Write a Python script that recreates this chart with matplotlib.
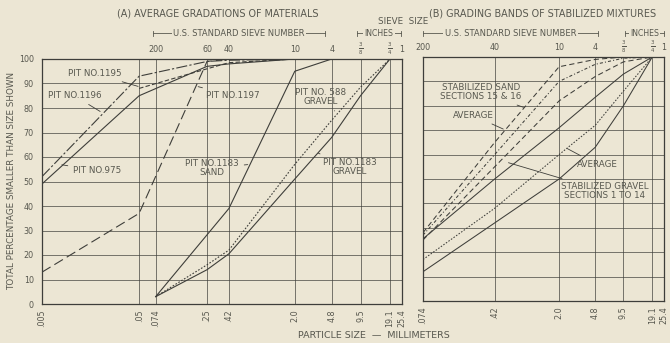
import matplotlib.pyplot as plt
from matplotlib.transforms import blended_transform_factory as btf

BG = '#ece6d4'
INK = '#3e3e3a'
TXT = '#58584f'
W, H = 670, 343

# ---------------- data ----------------
yticks = [0, 10, 20, 30, 40, 50, 60, 70, 80, 90, 100]

mm_a = [0.005, 0.05, 0.074, 0.25, 0.42, 2.0, 4.8, 9.5, 19.1, 25.4]
mm_a_lab = ['.005', '.05', '.074', '.25', '.42', '2.0', '4.8', '9.5', '19.1', '25.4']
sieve_a = [0.074, 0.25, 0.42, 2.0, 4.8, 9.5, 19.1, 25.4]
sieve_a_lab = ['200', '60', '40', '10', '4', r'$\frac{3}{8}$', r'$\frac{3}{4}$', '1']

mm_b = [0.074, 0.42, 2.0, 4.8, 9.5, 19.1, 25.4]
mm_b_lab = ['.074', '.42', '2.0', '4.8', '9.5', '19.1', '25.4']
sieve_b = [0.074, 0.42, 2.0, 4.8, 9.5, 19.1, 25.4]
sieve_b_lab = ['200', '40', '10', '4', r'$\frac{3}{8}$', r'$\frac{3}{4}$', '1']

pit975_x = [0.005, 0.05, 0.25, 0.42, 2.0]
pit975_y = [49, 85, 97, 98, 100]
pit1196_x = [0.005, 0.05, 0.25, 0.42, 2.0]
pit1196_y = [52, 93, 99, 99.5, 100]
pit1195_x = [0.05, 0.25, 0.42, 2.0]
pit1195_y = [88, 96, 98.5, 100]
pit1197_x = [0.005, 0.05, 0.25, 0.42, 2.0]
pit1197_y = [13, 37, 99, 100, 100]
pit1183s_x = [0.074, 0.42, 2.0, 4.8]
pit1183s_y = [3, 39, 95, 100]
pit1183g_x = [0.074, 0.25, 0.42, 2.0, 4.8, 9.5, 19.1]
pit1183g_y = [3, 14, 20.5, 51, 68, 85, 100]
pit588_x = [0.074, 0.25, 0.42, 2.0, 4.8, 9.5, 19.1]
pit588_y = [3, 16, 22, 57, 75, 88.5, 100]

band_x = [0.074, 0.42, 2.0, 4.8, 9.5, 19.1]
sand_hi = [28, 65, 96, 99, 100, 100]
sand_avg = [27, 60, 90, 97, 99.5, 100]
sand_lo = [25, 55, 82, 92, 98, 100]
grav_hi = [25.5, 50, 71, 83.5, 93, 100]
grav_avg = [17, 38, 60, 72, 86, 100]
grav_lo = [12, 32, 50, 63, 80, 100]

# ---------------- figure ----------------
fig = plt.figure(figsize=(W / 100, H / 100), dpi=100, facecolor=BG)
plt.rcParams['font.family'] = ['DejaVu Sans']


def ax_px(x0, y0, x1, y1):
    return fig.add_axes([x0 / W, 1 - y1 / H, (x1 - x0) / W, (y1 - y0) / H])


def style_axes(ax, xmin, xmax, grid_x, ticks, labels):
    ax.set_facecolor(BG)
    ax.set_xscale('log')
    ax.set_xlim(xmin, xmax)
    ax.set_ylim(0, 100)
    for s in ax.spines.values():
        s.set_color(INK)
        s.set_linewidth(0.9)
    for v in yticks[1:-1]:
        ax.axhline(v, color=INK, lw=0.6, alpha=0.8)
    for v in grid_x:
        ax.axvline(v, color=INK, lw=0.6, alpha=0.8)
    ax.set_xticks(ticks)
    ax.set_xticklabels(labels, rotation=90, fontsize=5.8, color=TXT)
    ax.minorticks_off()
    ax.tick_params(axis='x', length=0, pad=4)


ln = dict(color=INK, lw=0.8)
kw = dict(fontsize=6.3, color=TXT)

# ---------------- panel A ----------------
axA = ax_px(42, 59, 402, 304)
style_axes(axA, 0.005, 25.4, [0.05, 0.074, 0.25, 0.42, 2.0, 4.8, 9.5, 19.1], mm_a, mm_a_lab)
axA.set_yticks(yticks)
axA.set_yticklabels([str(v) for v in yticks], fontsize=5.8, color=TXT)
axA.tick_params(axis='y', length=0, pad=6)
axA.set_ylabel('TOTAL PERCENTAGE SMALLER THAN SIZE SHOWN', fontsize=6.3, color=TXT, labelpad=2)

axA.plot(pit975_x, pit975_y, '-', **ln)
axA.plot(pit1196_x, pit1196_y, ls=(0, (10, 2, 2, 2)), **ln)
axA.plot(pit1195_x, pit1195_y, ls=(0, (4, 2)), **ln)
axA.plot(pit1197_x, pit1197_y, ls=(0, (9, 4)), **ln)
axA.plot(pit1183s_x, pit1183s_y, '-', **ln)
axA.plot(pit1183g_x, pit1183g_y, '-', **ln)
axA.plot(pit588_x, pit588_y, ls=(0, (1.5, 1.5)), **ln)

lead = dict(arrowstyle='-', color=INK, lw=0.6)
axA.annotate('PIT NO.1195', xy=(0.052, 88.5), xytext=(0.0092, 94), ha='left', va='center', arrowprops=lead, **kw)
axA.annotate('PIT NO.1196', xy=(0.021, 78), xytext=(0.0057, 85), ha='left', va='center', arrowprops=lead, **kw)
axA.annotate('PIT NO.1197', xy=(0.19, 89), xytext=(0.245, 85), ha='left', va='center', arrowprops=lead, **kw)
axA.annotate('PIT NO.975', xy=(0.0075, 57), xytext=(0.0105, 54.5), ha='left', va='center', arrowprops=lead, **kw)
axA.annotate('PIT NO.1183\nSAND', xy=(0.7, 57), xytext=(0.28, 55.5), ha='center', va='center',
             linespacing=1.0, arrowprops=lead, **kw)
axA.annotate('PIT NO. 588\nGRAVEL', xy=(5.4, 78), xytext=(3.7, 84.5), ha='center', va='center',
             linespacing=1.0, arrowprops=lead, **kw)
axA.annotate('PIT NO.1183\nGRAVEL', xy=(3.3, 62), xytext=(7.3, 56), ha='center', va='center',
             linespacing=1.0, arrowprops=lead, **kw)

# ---------------- panel B ----------------
axB = ax_px(423, 57, 664, 301)
style_axes(axB, 0.074, 25.4, [0.42, 2.0, 4.8, 9.5, 19.1], mm_b, mm_b_lab)
axB.set_yticks([])

sd = dict(color=INK, lw=0.75)
axB.plot(band_x, sand_hi, ls=(0, (5, 3)), **sd)
axB.plot(band_x, sand_avg, ls=(0, (3, 2, 1, 2)), **sd)
axB.plot(band_x, sand_lo, ls=(0, (5, 3)), **sd)
axB.plot(band_x, grav_hi, '-', **sd)
axB.plot(band_x, grav_avg, ls=(0, (1.5, 1.5)), **sd)
axB.plot(band_x, grav_lo, '-', **sd)

axB.annotate('STABILIZED SAND\nSECTIONS 15 & 16', xy=(0.9, 79), xytext=(0.3, 85.5), ha='center', va='center',
             linespacing=1.0, arrowprops=lead, **kw)
axB.annotate('AVERAGE', xy=(0.55, 70), xytext=(0.25, 76), ha='center', va='center', arrowprops=lead, **kw)
axB.annotate('AVERAGE', xy=(2.3, 63), xytext=(5.0, 56), ha='center', va='center', arrowprops=lead, **kw)
axB.annotate('STABILIZED GRAVEL\nSECTIONS 1 TO 14', xy=(0.55, 57), xytext=(6.0, 45), ha='center', va='center',
             linespacing=1.0, arrowprops=lead, **kw)

# ---------------- top sieve labels & brackets ----------------
for ax, pos, lab in ((axA, sieve_a, sieve_a_lab), (axB, sieve_b, sieve_b_lab)):
    tr = btf(ax.transData, ax.transAxes)
    for p, l in zip(pos, lab):
        fs = 5.6 if l.startswith('$') else 5.8
        ax.text(p, 1.04, l, transform=tr, ha='center', va='center', fontsize=fs, color=TXT, clip_on=False)


def bracket(x0, x1, y, label, fs=6.0):
    fy = 1 - y / H
    fig.add_artist(plt.Line2D([x0 / W, x1 / W], [fy, fy], color=TXT, lw=0.6))
    for xx in (x0, x1):
        fig.add_artist(plt.Line2D([xx / W, xx / W], [fy - 2.5 / H, fy + 2.5 / H], color=TXT, lw=0.6))
    fig.text((x0 + x1) / 2 / W, fy, label, ha='center', va='center', fontsize=fs, color=TXT,
             bbox=dict(facecolor=BG, edgecolor='none', pad=1.0))


bracket(153, 325, 33, 'U.S. STANDARD SIEVE NUMBER')
bracket(357, 401, 33, 'INCHES', 5.6)
bracket(423, 598, 33, 'U.S. STANDARD SIEVE NUMBER')
bracket(625, 664, 33, 'INCHES', 5.6)

fig.text(218 / W, 1 - 13 / H, '(A) AVERAGE GRADATIONS OF MATERIALS', ha='center', va='center', fontsize=6.9, color=TXT)
fig.text(543 / W, 1 - 13 / H, '(B) GRADING BANDS OF STABILIZED MIXTURES', ha='center', va='center', fontsize=6.9, color=TXT)
fig.text(403 / W, 1 - 22 / H, 'SIEVE  SIZE', ha='center', va='center', fontsize=6.3, color=TXT)
fig.text(374 / W, 1 - 335 / H, 'PARTICLE SIZE  —  MILLIMETERS', ha='center', va='center', fontsize=6.8, color=TXT)

fig.savefig('out.png', dpi=100, facecolor=BG)
